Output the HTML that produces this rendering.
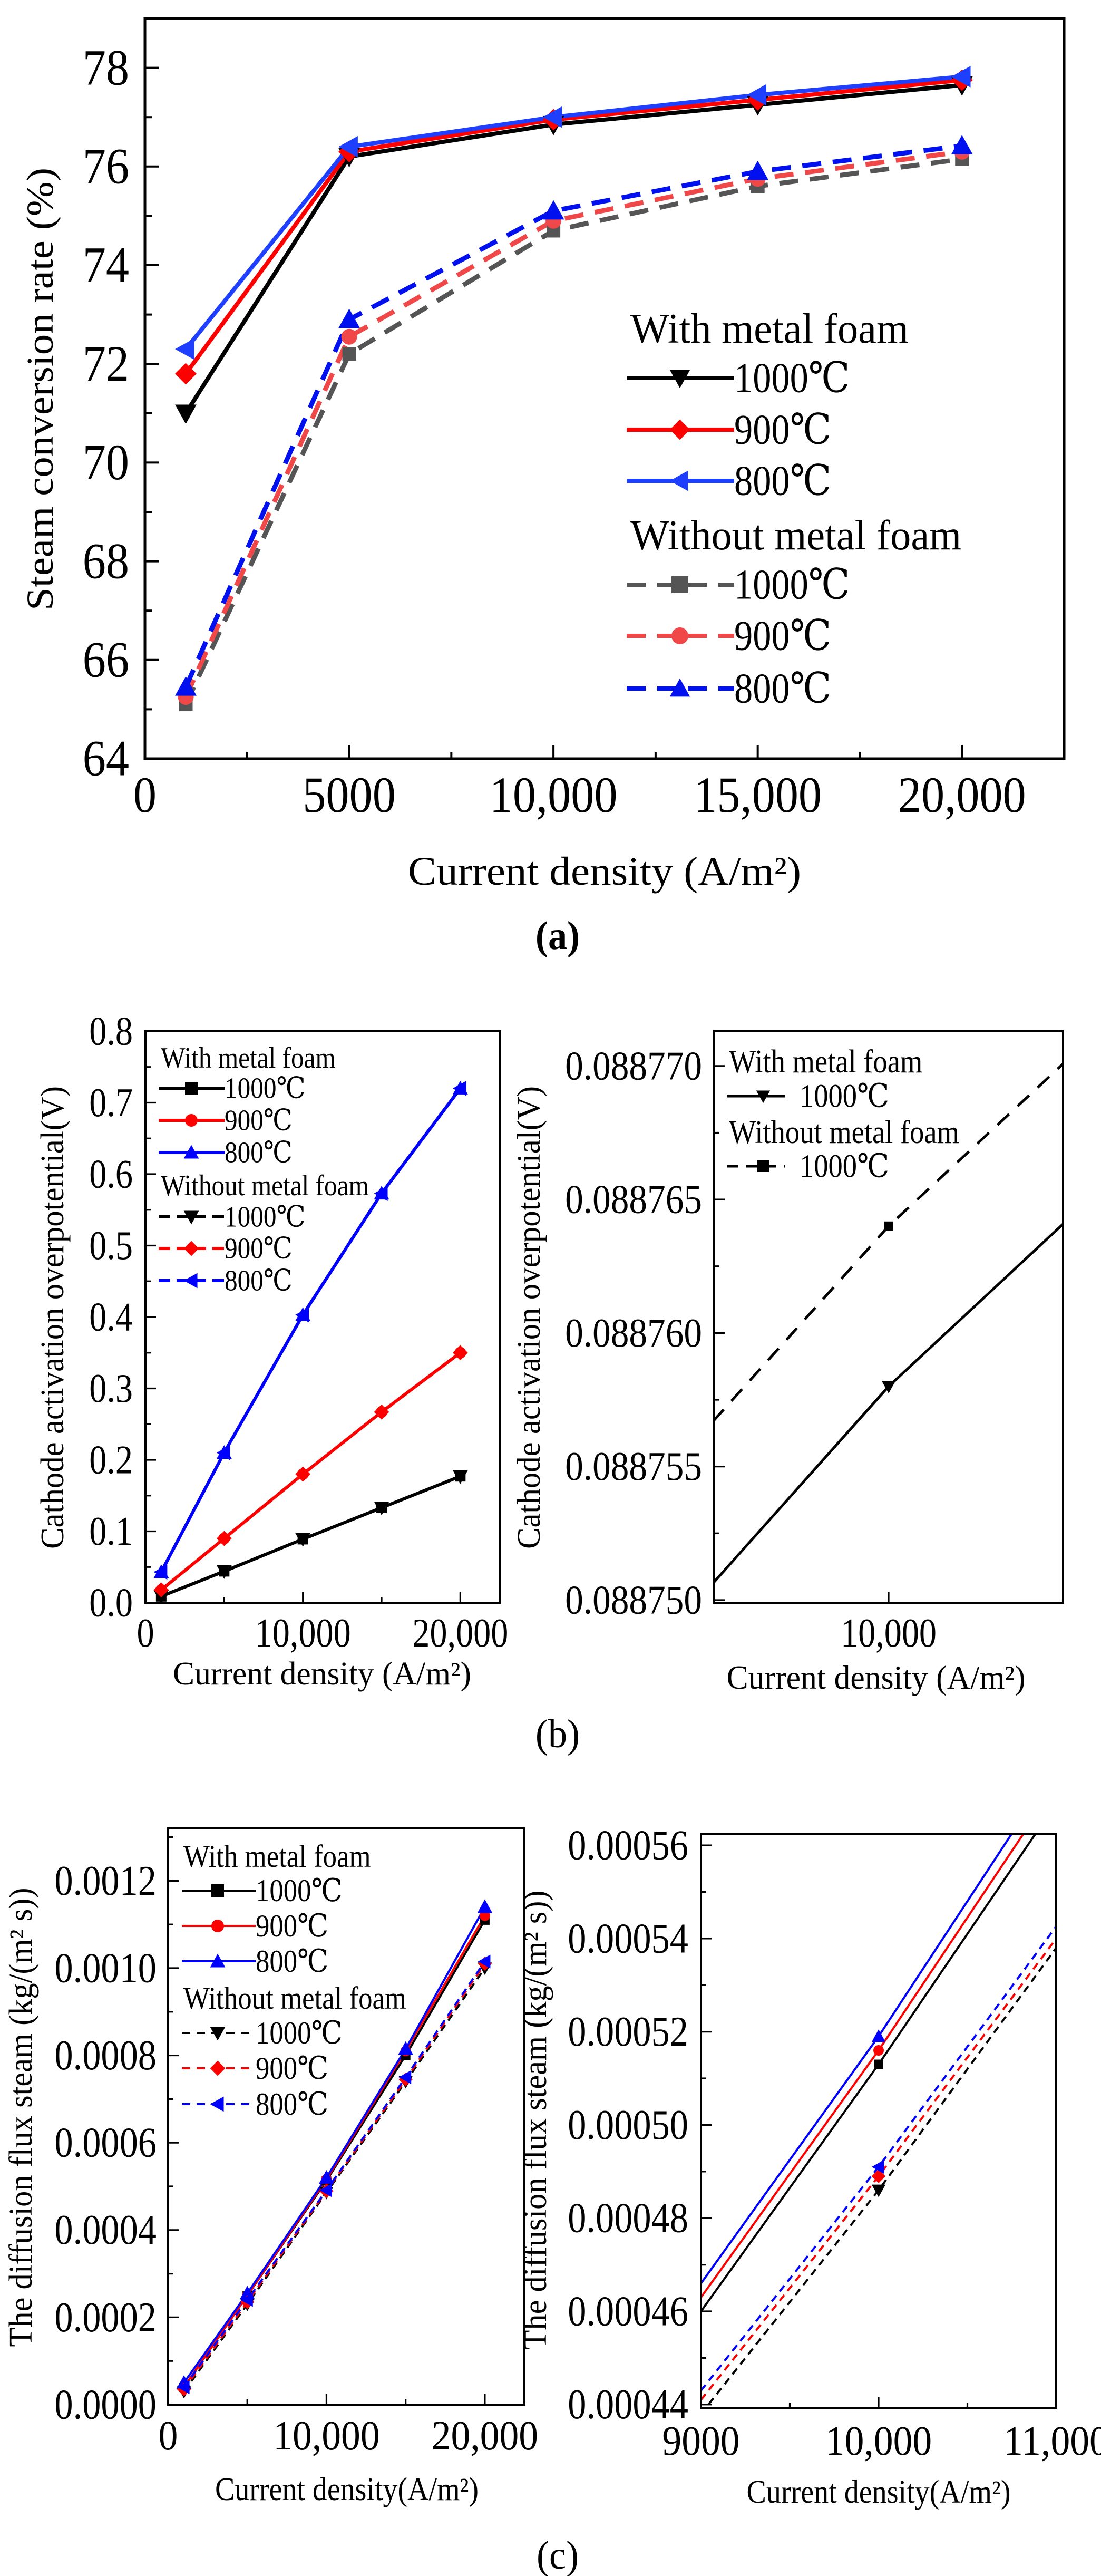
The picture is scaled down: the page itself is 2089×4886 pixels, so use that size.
<!DOCTYPE html>
<html><head><meta charset="utf-8"><style>
html,body{margin:0;padding:0;background:#fff;}
svg{display:block;font-family:"Liberation Serif","DejaVu Serif",serif;}
</style></head><body>
<svg id="fig" width="2089" height="4886" viewBox="0 0 2089 4886" xmlns="http://www.w3.org/2000/svg">
<rect width="2089" height="4886" fill="#fff"/>
<defs>
<clipPath id="ca"><rect x="275" y="35" width="1744" height="1404"/></clipPath>
<clipPath id="cbl"><rect x="276" y="1956" width="672" height="1084"/></clipPath>
<clipPath id="cbr"><rect x="1355" y="1956" width="662" height="1084"/></clipPath>
<clipPath id="ccl"><rect x="319" y="3468" width="676" height="1093"/></clipPath>
<clipPath id="ccr"><rect x="1330" y="3478" width="674" height="1089"/></clipPath>
</defs>
</svg>
<script>
// ---- Panel (a) data ----
const aX = [1000, 5000, 10000, 15000, 20000];
const aWith1000 = [71.0, 76.2, 76.85, 77.25, 77.65];
const aWith900 = [71.8, 76.3, 76.95, 77.35, 77.75];
const aWith800 = [72.3, 76.4, 77.0, 77.45, 77.82];
const aWo1000 = [65.1, 72.2, 74.7, 75.6, 76.15];
const aWo900 = [65.25, 72.55, 74.9, 75.75, 76.3];
const aWo800 = [65.45, 72.9, 75.1, 75.9, 76.42];
const aXTicks = [0, 5000, 10000, 15000, 20000];
const aXTickLabels = ["0", "5000", "10,000", "15,000", "20,000"];
const aYTicks = [64, 66, 68, 70, 72, 74, 76, 78];
const aYTickLabels = ["64", "66", "68", "70", "72", "74", "76", "78"];
// ---- Panel (b) left data ----
const bX = [1000, 5000, 10000, 15000, 20000];
const bWith1000 = [0.009, 0.044, 0.089, 0.133, 0.177];
const bWith900 = [0.018, 0.090, 0.180, 0.267, 0.350];
const bWith800 = [0.043, 0.210, 0.403, 0.573, 0.720];
const bWo1000 = [0.009, 0.044, 0.089, 0.133, 0.177];
const bWo900 = [0.018, 0.090, 0.180, 0.267, 0.350];
const bWo800 = [0.043, 0.210, 0.403, 0.573, 0.720];
const bXTicks = [0, 10000, 20000];
const bXTickLabels = ["0", "10,000", "20,000"];
const bYTicks = [0, 0.1, 0.2, 0.3, 0.4, 0.5, 0.6, 0.7, 0.8];
const bYTickLabels = ["0.0", "0.1", "0.2", "0.3", "0.4", "0.5", "0.6", "0.7", "0.8"];
// ---- Panel (b) right (zoom) data ----
const bzX = [5000, 10000, 15000];
const bzWith1000 = [0.0887214, 0.088758, 0.0887884];
const bzWo1000 = [0.0887277, 0.088764, 0.0887944];
const bzXTicks = [10000];
const bzXTickLabels = ["10,000"];
const bzYTicks = [0.08875, 0.088755, 0.08876, 0.088765, 0.08877];
const bzYTickLabels = ["0.088750", "0.088755", "0.088760", "0.088765", "0.088770"];
// ---- Panel (c) left data ----
const cX = [1000, 5000, 10000, 15000, 20000];
const cWith1000 = [0.00004, 0.00025, 0.000513, 0.00080, 0.00111];
const cWith900 = [0.00004, 0.00025, 0.000516, 0.00081, 0.00112];
const cWith800 = [0.00005, 0.000255, 0.00052, 0.000815, 0.00114];
const cWo1000 = [0.00003, 0.00023, 0.000486, 0.00074, 0.0010];
const cWo900 = [0.000035, 0.000235, 0.000489, 0.000745, 0.00101];
const cWo800 = [0.00004, 0.00024, 0.000491, 0.00075, 0.001015];
const cXTicks = [0, 10000, 20000];
const cXTickLabels = ["0", "10,000", "20,000"];
const cYTicks = [0, 0.0002, 0.0004, 0.0006, 0.0008, 0.0010, 0.0012];
const cYTickLabels = ["0.0000", "0.0002", "0.0004", "0.0006", "0.0008", "0.0010", "0.0012"];
// ---- Panel (c) right (zoom) data ----
const czX = [9000, 10000, 11000];
const czWith1000 = [0.00046, 0.000513, 0.000569];
const czWith900 = [0.000463, 0.000516, 0.000573];
const czWith800 = [0.000466, 0.000519, 0.000577];
const czWo1000 = [0.000438, 0.000486, 0.000538];
const czWo900 = [0.000441, 0.000489, 0.000540];
const czWo800 = [0.000443, 0.000491, 0.0005426];
const czMarkX = [10000];
const czXTicks = [9000, 10000, 11000];
const czXTickLabels = ["9000", "10,000", "11,000"];
const czYTicks = [0.00044, 0.00046, 0.00048, 0.0005, 0.00052, 0.00054, 0.00056];
const czYTickLabels = ["0.00044", "0.00046", "0.00048", "0.00050", "0.00052", "0.00054", "0.00056"];

const NS = "http://www.w3.org/2000/svg";
const svg = document.getElementById("fig");
function mk(tag, attrs, parent) {
  const e = document.createElementNS(NS, tag);
  for (const k in attrs) e.setAttribute(k, attrs[k]);
  (parent || svg).appendChild(e);
  return e;
}
function txt(parent, x, y, s, size, anchor, sx, name, weight) {
  const e = mk("text", {transform: "translate(" + x + "," + y + ") scale(" + sx + ",1)", "font-size": size, "text-anchor": anchor, fill: "#000"}, parent);
  if (weight) e.setAttribute("font-weight", weight);
  e.textContent = s;
  
  
  return e;
}
function rtxt(parent, x, y, s, size, len, name) {
  const e = mk("text", {transform: "translate(" + x + "," + y + ") rotate(-90)", "font-size": size, "text-anchor": "middle", textLength: len, lengthAdjust: "spacingAndGlyphs", fill: "#000"}, parent);
  e.textContent = s;
  
  
  return e;
}
function htxt(parent, x, y, s, size, len, name) {
  const e = mk("text", {x: x, y: y, "font-size": size, "text-anchor": "middle", textLength: len, lengthAdjust: "spacingAndGlyphs", fill: "#000"}, parent);
  e.textContent = s;
  
  
  return e;
}
function marker(parent, type, x, y, s, color) {
  let e;
  if (type === "square") e = mk("rect", {x: x - s / 2, y: y - s / 2, width: s, height: s, fill: color}, parent);
  else if (type === "circle") e = mk("circle", {cx: x, cy: y, r: s / 2, fill: color}, parent);
  else {
    let p;
    const h = s * 0.6;
    if (type === "down") p = [[x - h, y - h * 0.8], [x + h, y - h * 0.8], [x, y + h]];
    else if (type === "up") p = [[x - h, y + h * 0.8], [x + h, y + h * 0.8], [x, y - h]];
    else if (type === "left") p = [[x + h * 0.8, y - h], [x + h * 0.8, y + h], [x - h, y]];
    else p = [[x, y - h], [x + h, y], [x, y + h], [x - h, y]];
    e = mk("polygon", {points: p.map(q => q.join(",")).join(" "), fill: color}, parent);
  }
  
  
}
function chart(c) {
  const g = mk("g", {});
  
  
  const sx = v => c.L + (v - c.xmin) / (c.xmax - c.xmin) * (c.R - c.L);
  const sy = v => c.B - (v - c.ymin) / (c.ymax - c.ymin) * (c.B - c.T);
  // series
  const sg = mk("g", {"clip-path": "url(#" + c.clip + ")"}, g);
  c.series.forEach(s => {
    const d = s.xs.map((x, i) => (i ? "L" : "M") + sx(x).toFixed(1) + "," + sy(s.ys[i]).toFixed(1)).join(" ");
    const p = mk("path", {d: d, fill: "none", stroke: s.color, "stroke-width": s.w, "stroke-dasharray": s.dash || "none", "stroke-linejoin": "round"}, sg);
    
    
  });
  c.series.forEach(s => {
    s.xs.forEach((x, i) => {
      if (!s.mx || s.mx.indexOf(x) >= 0) marker(sg, s.marker, sx(x), sy(s.ys[i]), s.ms, s.mc || s.color);
    });
  });
  // frame
  const fr = mk("rect", {x: c.L, y: c.T, width: c.R - c.L, height: c.B - c.T, fill: "none", stroke: "#000", "stroke-width": c.aw}, g);
  
  
  // ticks
  const tk = mk("g", {stroke: "#000", "stroke-width": c.aw * 0.8}, g);
  
  
  for (let v = c.xminStart; v <= c.xmax + 1e-12; v += c.xMinor) {
    const major = c.xTicks.some(t => Math.abs(t - v) < c.xMinor * 0.01);
    mk("line", {x1: sx(v), x2: sx(v), y1: c.B, y2: c.B - (major ? c.tl : c.tl / 2)}, tk);
  }
  for (let v = c.ymin; v <= c.ymax + 1e-12; v += c.yMinor) {
    const vv = Math.round(v / c.yMinor) * c.yMinor;
    if (vv < c.ymin - 1e-12) continue;
    const major = c.yTicks.some(t => Math.abs(t - vv) < c.yMinor * 0.01);
    mk("line", {x1: c.L, x2: c.L + (major ? c.tl : c.tl / 2), y1: sy(vv), y2: sy(vv)}, tk);
  }
  c.xTicks.forEach((t, i) => txt(g, sx(t), c.xlY, c.xTickLabels[i], c.tf, "middle", c.xsx, "x-tick-label"));
  c.yTicks.forEach((t, i) => txt(g, c.L - c.ylGap, sy(t) + c.tf * 0.33, c.yTickLabels[i], c.tf, "end", c.ysx, "y-tick-label"));
  return g;
}
function legend(items, x0, x1, mxPos, tx, size, lw, ms, name, heads) {
  const g = mk("g", {});
  
  
  heads.forEach(h => txt(g, h[0], h[1], h[2], size, "start", h[3], "legend-heading"));
  items.forEach(it => {
    const ln = mk("line", {x1: x0, x2: x1, y1: it.y, y2: it.y, stroke: it.color, "stroke-width": lw, "stroke-dasharray": it.dash || "none"}, g);
    
    
    marker(g, it.marker, mxPos, it.y, ms, it.mc || it.color);
    txt(g, tx, it.y + size * 0.33, it.label, size, "start", it.sx || 0.88, "legend-entry");
  });
}

// ===== Panel (a) =====
chart({name: "chart-a", clip: "ca", L: 275, R: 2019, T: 35, B: 1439, xmin: 0, xmax: 22500, ymin: 64, ymax: 79,
  xTicks: aXTicks, xTickLabels: aXTickLabels, yTicks: aYTicks, yTickLabels: aYTickLabels,
  xMinor: 2500, xminStart: 0, yMinor: 1, tl: 26, aw: 5, tf: 96, xsx: 0.92, ysx: 0.92, xlY: 1540, ylGap: 30,
  series: [
    {name: "a-with-1000", xs: aX, ys: aWith1000, color: "#000", w: 8, marker: "down", ms: 34},
    {name: "a-with-900", xs: aX, ys: aWith900, color: "#f00", w: 8, marker: "diamond", ms: 34},
    {name: "a-with-800", xs: aX, ys: aWith800, color: "#1f3fff", w: 8, marker: "left", ms: 34},
    {name: "a-without-1000", xs: aX, ys: aWo1000, color: "#555", w: 9, dash: "36 22", marker: "square", ms: 26},
    {name: "a-without-900", xs: aX, ys: aWo900, color: "#f04848", w: 9, dash: "36 22", marker: "circle", ms: 30},
    {name: "a-without-800", xs: aX, ys: aWo800, color: "#0010ee", w: 9, dash: "36 22", marker: "up", ms: 34}
  ]});
rtxt(svg, 100, 738, "Steam conversion rate (%)", 72, 840, "y-axis-title-a");
htxt(svg, 1147, 1678, "Current density (A/m²)", 76, 746, "x-axis-title-a");
legend([
  {y: 717, color: "#000", marker: "down", label: "1000℃"},
  {y: 815, color: "#f00", marker: "diamond", label: "900℃"},
  {y: 912, color: "#1f3fff", marker: "left", label: "800℃"},
  {y: 1109, color: "#555", dash: "36 22", marker: "square", label: "1000℃"},
  {y: 1206, color: "#f04848", dash: "36 22", marker: "circle", label: "900℃"},
  {y: 1306, color: "#0010ee", dash: "36 22", marker: "up", label: "800℃"}
], 1189, 1393, 1290, 1393, 80, 8, 32, "legend-a",
  [[1196, 650, "With metal foam", 0.98], [1196, 1042, "Without metal foam", 0.98]]);
txt(svg, 1058, 1800, "(a)", 76, "middle", 0.95, "panel-label-a", "bold");

// ===== Panel (b) left =====
chart({name: "chart-b-left", clip: "cbl", L: 276, R: 948, T: 1956, B: 3040, xmin: 0, xmax: 22500, ymin: 0, ymax: 0.8,
  xTicks: bXTicks, xTickLabels: bXTickLabels, yTicks: bYTicks, yTickLabels: bYTickLabels,
  xMinor: 5000, xminStart: 0, yMinor: 0.05, tl: 20, aw: 4, tf: 77, xsx: 0.86, ysx: 0.86, xlY: 3123, ylGap: 24,
  series: [
    {name: "b-with-1000", xs: bX, ys: bWith1000, color: "#000", w: 6, marker: "square", ms: 20},
    {name: "b-with-900", xs: bX, ys: bWith900, color: "#f00", w: 6, marker: "circle", ms: 22},
    {name: "b-with-800", xs: bX, ys: bWith800, color: "#0000ff", w: 6, marker: "up", ms: 24},
    {name: "b-without-1000", xs: bX, ys: bWo1000, color: "#000", w: 6, dash: "30 18", marker: "down", ms: 24},
    {name: "b-without-900", xs: bX, ys: bWo900, color: "#f00", w: 6, dash: "30 18", marker: "diamond", ms: 24},
    {name: "b-without-800", xs: bX, ys: bWo800, color: "#0000ff", w: 6, dash: "30 18", marker: "left", ms: 24}
  ]});
rtxt(svg, 120, 2499, "Cathode activation overpotential(V)", 62, 878, "y-axis-title-b-left");
htxt(svg, 611, 3195, "Current density (A/m²)", 62, 566, "x-axis-title-b-left");
legend([
  {y: 2064, color: "#000", marker: "square", label: "1000℃"},
  {y: 2125, color: "#f00", marker: "circle", label: "900℃"},
  {y: 2186, color: "#0000ff", marker: "up", label: "800℃"},
  {y: 2308, color: "#000", dash: "22 12", marker: "down", label: "1000℃"},
  {y: 2368, color: "#f00", dash: "22 12", marker: "diamond", label: "900℃"},
  {y: 2429, color: "#0000ff", dash: "22 12", marker: "left", label: "800℃"}
], 301, 426, 363, 426, 56, 6, 24, "legend-b-left",
  [[305, 2025, "With metal foam", 0.88], [305, 2267, "Without metal foam", 0.88]]);

// ===== Panel (b) right =====
chart({name: "chart-b-right", clip: "cbr", L: 1355, R: 2017, T: 1956, B: 3040, xmin: 9000, xmax: 11000, ymin: 0.0887499, ymax: 0.0887713,
  xTicks: bzXTicks, xTickLabels: bzXTickLabels, yTicks: bzYTicks, yTickLabels: bzYTickLabels,
  xMinor: 1000, xminStart: 10000, yMinor: 0.0000025, tl: 20, aw: 4, tf: 77, xsx: 0.86, ysx: 0.9, xlY: 3123, ylGap: 23,
  series: [
    {name: "bz-with-1000", xs: bzX, ys: bzWith1000, color: "#000", w: 5, marker: "down", ms: 22},
    {name: "bz-without-1000", xs: bzX, ys: bzWo1000, color: "#000", w: 5, dash: "30 22", marker: "square", ms: 18}
  ]});
rtxt(svg, 1024, 2499, "Cathode activation overpotential(V)", 62, 878, "y-axis-title-b-right");
htxt(svg, 1662, 3203, "Current density (A/m²)", 64, 567, "x-axis-title-b-right");
legend([
  {y: 2079, color: "#000", marker: "down", label: "1000℃"},
  {y: 2212, color: "#000", dash: "22 14", marker: "square", label: "1000℃"}
], 1379, 1489, 1448, 1517, 62, 5, 22, "legend-b-right",
  [[1383, 2034, "With metal foam", 0.88], [1383, 2168, "Without metal foam", 0.88]]);
txt(svg, 1058, 3314, "(b)", 76, "middle", 0.95, "panel-label-b");

// ===== Panel (c) left =====
chart({name: "chart-c-left", clip: "ccl", L: 319, R: 995, T: 3468, B: 4561, xmin: 0, xmax: 22500, ymin: 0, ymax: 0.00132,
  xTicks: cXTicks, xTickLabels: cXTickLabels, yTicks: cYTicks, yTickLabels: cYTickLabels,
  xMinor: 5000, xminStart: 0, yMinor: 0.0001, tl: 20, aw: 4, tf: 80, xsx: 0.92, ysx: 0.88, xlY: 4646, ylGap: 22,
  series: [
    {name: "c-with-1000", xs: cX, ys: cWith1000, color: "#000", w: 4, marker: "square", ms: 18},
    {name: "c-with-900", xs: cX, ys: cWith900, color: "#f00", w: 4, marker: "circle", ms: 20},
    {name: "c-with-800", xs: cX, ys: cWith800, color: "#0000ff", w: 4, marker: "up", ms: 24},
    {name: "c-without-1000", xs: cX, ys: cWo1000, color: "#000", w: 4, dash: "14 10", marker: "down", ms: 22},
    {name: "c-without-900", xs: cX, ys: cWo900, color: "#f00", w: 4, dash: "14 10", marker: "diamond", ms: 22},
    {name: "c-without-800", xs: cX, ys: cWo800, color: "#0000ff", w: 4, dash: "14 10", marker: "left", ms: 22}
  ]});
rtxt(svg, 60, 4016, "The diffusion flux steam (kg/(m² s))", 62, 871, "y-axis-title-c-left");
htxt(svg, 658, 4742, "Current density(A/m²)", 62, 500, "x-axis-title-c-left");
legend([
  {y: 3586, color: "#000", marker: "square", label: "1000℃"},
  {y: 3653, color: "#f00", marker: "circle", label: "900℃"},
  {y: 3720, color: "#0000ff", marker: "up", label: "800℃"},
  {y: 3856, color: "#000", dash: "16 12", marker: "down", label: "1000℃"},
  {y: 3923, color: "#f00", dash: "16 12", marker: "diamond", label: "900℃"},
  {y: 3991, color: "#0000ff", dash: "16 12", marker: "left", label: "800℃"}
], 345, 485, 413, 485, 60, 4, 24, "legend-c-left",
  [[348, 3541, "With metal foam", 0.88], [348, 3810, "Without metal foam", 0.88]]);

// ===== Panel (c) right =====
chart({name: "chart-c-right", clip: "ccr", L: 1330, R: 2004, T: 3478, B: 4567, xmin: 9000, xmax: 11000, ymin: 0.0004393, ymax: 0.0005625,
  xTicks: czXTicks, xTickLabels: czXTickLabels, yTicks: czYTicks, yTickLabels: czYTickLabels,
  xMinor: 500, xminStart: 9000, yMinor: 0.00001, tl: 20, aw: 4, tf: 80, xsx: 0.92, ysx: 0.88, xlY: 4656, ylGap: 24,
  series: [
    {name: "cz-with-1000", xs: czX, ys: czWith1000, color: "#000", w: 4, marker: "square", ms: 18, mx: czMarkX},
    {name: "cz-with-900", xs: czX, ys: czWith900, color: "#f00", w: 4, marker: "circle", ms: 20, mx: czMarkX},
    {name: "cz-with-800", xs: czX, ys: czWith800, color: "#0000ff", w: 4, marker: "up", ms: 22, mx: czMarkX},
    {name: "cz-without-1000", xs: czX, ys: czWo1000, color: "#000", w: 4, dash: "14 10", marker: "down", ms: 22, mx: czMarkX},
    {name: "cz-without-900", xs: czX, ys: czWo900, color: "#f00", w: 4, dash: "14 10", marker: "diamond", ms: 22, mx: czMarkX},
    {name: "cz-without-800", xs: czX, ys: czWo800, color: "#0000ff", w: 4, dash: "14 10", marker: "left", ms: 22, mx: czMarkX}
  ]});
rtxt(svg, 1036, 4021, "The diffusion flux steam (kg/(m² s))", 62, 871, "y-axis-title-c-right");
htxt(svg, 1667, 4747, "Current density(A/m²)", 62, 501, "x-axis-title-c-right");
txt(svg, 1058, 4872, "(c)", 76, "middle", 0.95, "panel-label-c");
</script>
</body></html>
